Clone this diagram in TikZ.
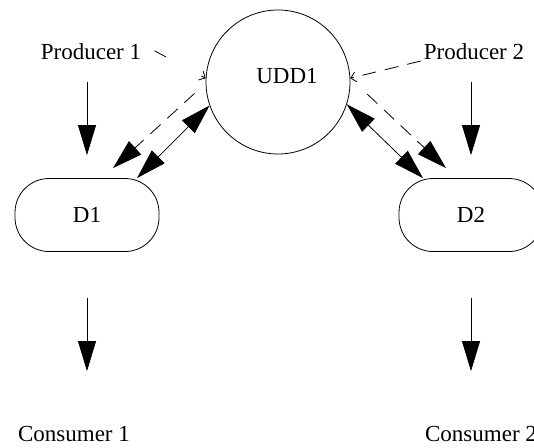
\documentclass[tikz,border=0pt]{standalone}
\usepackage{fontspec}
\setmainfont{Liberation Serif}
\usetikzlibrary{arrows.meta}

\begin{document}
\begin{tikzpicture}[x=1pt,y=-1pt,
        every node/.style={font=\fontsize{23}{26}\selectfont},
        lbl/.style={inner sep=0pt},
        dev/.style={draw,rounded corners=34pt,minimum width=144pt,minimum height=73pt,line width=0.8pt},
        flow/.style={line width=0.8pt,-{Triangle[length=30pt,width=18pt]}},
        both/.style={line width=0.8pt,{Triangle[length=30pt,width=18pt]}-{Triangle[length=30pt,width=18pt]}},
        lookup/.style={line width=0.8pt,dash pattern=on 14pt off 9pt,-{Triangle[length=30pt,width=18pt]}},
        notify/.style={line width=0.8pt,dash pattern=on 14pt off 9pt,-{Straight Barb[length=5pt,width=10pt]}}]
        \useasboundingbox (0,0) rectangle (534,447);
        \node[draw,circle,minimum size=144pt,line width=0.8pt,label={[xshift=9pt,yshift=6pt]center:UDD1}] (U) at (278,82) {};
        \node[dev] (D1) at (87,215) {D1};
        \node[dev] (D2) at (471,215) {D2};
        \node[lbl] (P1) at (91,52) {Producer 1};
        \node[lbl] (P2) at (474,52) {Producer 2};
        \node[lbl] (C1) at (74,434) {Consumer 1};
        \node[lbl] (C2) at (481,434) {Consumer 2};
        \draw[flow,shorten <=22pt,shorten >=23pt] (P1.south -| D1.north) -- (D1.north);
        \draw[flow,shorten <=22pt,shorten >=23pt] (P2.south -| D2.north) -- (D2.north);
        \draw[flow,shorten <=46pt,shorten >=55pt] (D1.south) -- (D1.south |- C1.north);
        \draw[flow,shorten <=46pt,shorten >=55pt] (D2.south) -- (D2.south |- C2.north);
        \draw[notify,dash pattern=on 13pt off 40pt,shorten <=15pt] (P1.north east) -- (U.177);
        \draw[notify,shorten <=3pt] (P2.south west) -- (U.3);
        \draw[lookup,shorten <=15pt] (U.181) -- ([xshift=26pt,yshift=10pt]D1.north);
        \draw[both] (U.199) -- ([xshift=50pt]D1.north);
        \draw[lookup,shorten <=23pt] (U.3) -- ([xshift=-25pt,yshift=10pt]D2.north);
        \draw[both] (U.342) -- ([xshift=-48pt]D2.north);
    \end{tikzpicture}
\end{document}
